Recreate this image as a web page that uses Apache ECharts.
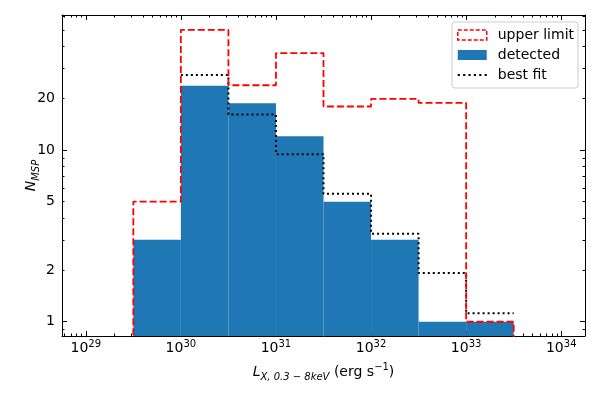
<!DOCTYPE html>
<html>
<head>
<meta charset="utf-8">
<script src="https://cdn.jsdelivr.net/npm/echarts@6/dist/echarts.min.js"></script>
<style>
  html, body { margin: 0; padding: 0; background: #fff; }
  #chart { width: 600px; height: 400px; }
</style>
</head>
<body>
<div id="chart"></div>
<script>
// bin edges as log10(L_X)
const binEdges = [29.5, 30, 30.5, 31, 31.5, 32, 32.5, 33, 33.5];
// counts per bin
const detected = [3, 23.6, 18.7, 12, 5, 3, 1, 1];
const upperLimit = [5, 50, 23.8, 36.6, 17.9, 19.8, 18.8, 1];
const bestFit = [null, 27.3, 16.1, 9.45, 5.55, 3.25, 1.92, 1.12];
// tick labels
const xTickExps = [29, 30, 31, 32, 33, 34];
const yTickLabels = [1, 2, 5, 10, 20];
const yMajorTicks = [1, 10];

const FONT = 'DejaVu Sans';
const X_MIN = 28.75, X_MAX = 34.25;
const Y_MIN = Math.log10(0.826), Y_MAX = Math.log10(61);

// minor ticks k*10^n in log space
function minorTicks(lo, hi, n0, n1) {
  const out = [];
  for (let n = n0; n <= n1; n++) {
    for (let k = 2; k <= 9; k++) {
      const v = Math.log10(k) + n;
      if (v > lo && v < hi) out.push(v);
    }
  }
  return out;
}
const xMinor = minorTicks(X_MIN, X_MAX, 28, 34);
const yMinor = minorTicks(Y_MIN, Y_MAX, -1, 1);

function makeAxis(dim, pos, ticks, len, showLine, label) {
  return {
    type: 'value',
    position: pos,
    min: dim === 'x' ? X_MIN : Y_MIN,
    max: dim === 'x' ? X_MAX : Y_MAX,
    axisLine: { show: showLine, onZero: false, lineStyle: { color: '#000', width: 1 } },
    axisTick: { show: true, inside: true, length: len, customValues: ticks, lineStyle: { color: '#000', width: 1 } },
    axisLabel: label || { show: false },
    splitLine: { show: false }
  };
}

const xLabel = {
  show: true,
  margin: 3,
  customValues: xTickExps,
  formatter: v => '{b|10}{s|' + Math.round(v) + '}',
  rich: {
    b: { fontFamily: FONT, fontSize: 14, color: '#000', lineHeight: 16, padding: [3, 0, 0, 0], verticalAlign: 'bottom' },
    s: { fontFamily: FONT, fontSize: 10, color: '#000', lineHeight: 11, verticalAlign: 'top' }
  }
};
const yLabel = {
  show: true,
  margin: 7,
  customValues: yTickLabels.map(v => Math.log10(v)),
  formatter: v => String(Math.round(Math.pow(10, v))),
  fontFamily: FONT, fontSize: 14, color: '#000'
};

const xMain = makeAxis('x', 'bottom', xTickExps, 5, true, xLabel);
xMain.name = '{i|L}{sub|X, 0.3 − 8keV}{n| (erg s}{sup|−1}{n|)}';
xMain.nameLocation = 'middle';
xMain.nameGap = 26;
xMain.nameMoveOverlap = false;
xMain.nameTextStyle = {
  rich: {
    i: { fontFamily: FONT, fontSize: 14, fontStyle: 'italic', color: '#000', lineHeight: 20 },
    sub: { fontFamily: FONT, fontSize: 10, fontStyle: 'italic', color: '#000', lineHeight: 10, verticalAlign: 'bottom' },
    n: { fontFamily: FONT, fontSize: 14, color: '#000', lineHeight: 20 },
    sup: { fontFamily: FONT, fontSize: 10, color: '#000', lineHeight: 10, verticalAlign: 'top' }
  }
};

const yMain = makeAxis('y', 'left', yMajorTicks.map(v => Math.log10(v)), 5, true, yLabel);
yMain.name = '{i|N}{sub|MSP}';
yMain.nameLocation = 'middle';
yMain.nameGap = 21;
yMain.nameMoveOverlap = false;
yMain.nameTextStyle = {
  rich: {
    i: { fontFamily: FONT, fontSize: 14, fontStyle: 'italic', color: '#000', lineHeight: 20 },
    sub: { fontFamily: FONT, fontSize: 10, fontStyle: 'italic', color: '#000', lineHeight: 10, verticalAlign: 'bottom' }
  }
};

// step outline points (histtype='step')
function stepPoints(vals, closed) {
  const pts = [];
  let last = null;
  vals.forEach((v, i) => {
    if (v == null) return;
    if (closed && pts.length === 0) pts.push([binEdges[i], -2]);
    pts.push([binEdges[i], Math.log10(v)]);
    last = i;
  });
  pts.push([binEdges[last + 1], Math.log10(vals[last])]);
  if (closed) pts.push([binEdges[last + 1], -2]);
  return pts;
}

const barData = detected.map((v, i) => [binEdges[i], binEdges[i + 1], Math.log10(v)]);

// dotted legend icon
const dotsIcon = 'path://M0,0h2v2h-2z M5,0h2v2h-2z M10,0h2v2h-2z M15,0h2v2h-2z M20,0h2v2h-2z M25,0h2v2h-2z';

const option = {
  animation: false,
  backgroundColor: '#fff',
  grid: { left: 62, right: 15, top: 15, bottom: 64 },
  xAxis: [
    xMain,
    makeAxis('x', 'bottom', xMinor, 2.5, false),
    makeAxis('x', 'top', xTickExps, 5, true),
    makeAxis('x', 'top', xMinor, 2.5, false)
  ],
  yAxis: [
    yMain,
    makeAxis('y', 'left', yMinor, 2.5, false),
    makeAxis('y', 'right', yMajorTicks.map(v => Math.log10(v)), 5, true),
    makeAxis('y', 'right', yMinor, 2.5, false)
  ],
  legend: {
    orient: 'vertical',
    left: 452,
    top: 22,
    padding: [6, 4, 6, 5],
    itemGap: 6,
    itemWidth: 29,
    itemHeight: 10,
    backgroundColor: 'rgba(255,255,255,0.8)',
    borderColor: '#cccccc',
    borderWidth: 1,
    borderRadius: 3,
    textStyle: { fontFamily: FONT, fontSize: 14, color: '#000', padding: [0, 0, 0, 6] },
    data: [
      { name: 'upper limit', icon: 'rect', itemStyle: { color: 'rgba(255,255,255,0)', borderColor: '#ff0000', borderWidth: 1.5, borderType: [4, 2] } },
      { name: 'detected', icon: 'rect' },
      { name: 'best fit', icon: dotsIcon, itemStyle: { color: '#000', borderWidth: 0 } }
    ]
  },
  series: [
    {
      name: 'detected',
      type: 'custom',
      z: 1,
      clip: true,
      itemStyle: { color: '#1f77b4' },
      encode: { x: [0, 1], y: 2 },
      data: barData,
      renderItem: function (params, api) {
        const p0 = api.coord([api.value(0), api.value(2)]);
        const p1 = api.coord([api.value(1), Y_MIN]);
        return {
          type: 'rect',
          shape: { x: p0[0], y: p0[1], width: p1[0] - p0[0], height: p1[1] - p0[1] },
          style: api.style()
        };
      }
    },
    {
      name: 'best fit',
      type: 'line',
      z: 3,
      step: 'end',
      symbol: 'none',
      itemStyle: { color: '#000' },
      lineStyle: { color: '#000', width: 2, type: [2, 3] },
      data: stepPoints(bestFit, false)
    },
    {
      name: 'upper limit',
      type: 'line',
      z: 4,
      step: 'end',
      symbol: 'none',
      itemStyle: { color: '#ff0000' },
      lineStyle: { color: '#ff0000', width: 1.8, type: [7, 3] },
      data: stepPoints(upperLimit, true)
    }
  ]
};

const chart = echarts.init(document.getElementById('chart'), null, { renderer: 'canvas' });
chart.setOption(option);
</script>
</body>
</html>
